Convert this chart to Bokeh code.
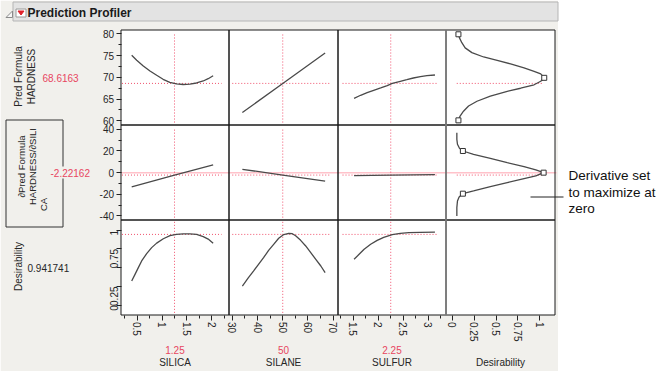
import math
from bokeh.plotting import figure
from bokeh.models import Range1d, FixedTicker, LinearAxis
from bokeh.embed import file_html
from bokeh.resources import INLINE
from bokeh.core.properties import value

# ---------------- data ----------------
factors = ["SILICA", "SILANE", "SULFUR"]
factor_current = [1.25, 50, 2.25]
hardness_current = 68.6163
deriv_current = -2.22162
desir_current = 0.941741
row_titles = [["Pred Formula", "HARDNESS"], ["∂Pred Formula", "HARDNESS/∂SILI", "CA"], ["Desirability"]]
resp_axis_name = "Desirability"
title = "Prediction Profiler"
note = ["Derivative set", "to maximize at", "zero"]

silica_x = [0.386, 0.487, 0.62, 0.755, 0.89, 1.02, 1.155, 1.29, 1.425, 1.56, 1.695, 1.83, 1.93, 2.03]
silica_hard = [75.09, 73.94, 72.63, 71.47, 70.48, 69.56, 68.87, 68.5, 68.36, 68.43, 68.71, 69.17, 69.7, 70.39]
silica_deriv_x = [0.386, 1.25, 2.03]
silica_deriv = [-13.2, -2.22, 7.1]
silica_des_x = [0.386, 0.453, 0.52, 0.587, 0.688, 0.789, 0.89, 1.024, 1.158, 1.29, 1.425, 1.56, 1.695, 1.83, 1.93, 2.03]
silica_des = [0.323, 0.411, 0.5, 0.589, 0.686, 0.766, 0.826, 0.884, 0.925, 0.943, 0.95, 0.95, 0.941, 0.912, 0.879, 0.824]

silane_x = [34.0, 50.0, 66.8]
silane_hard = [61.9, 68.6, 75.6]
silane_deriv = [3.1, -2.2, -7.9]
silane_des_x = [34.0, 36.4, 38.4, 40.4, 42.4, 44.4, 46.4, 48.4, 50.4, 52.4, 53.8, 55.1, 57.1, 59.1, 61.1, 63.1, 65.1, 66.8]
silane_des = [0.256, 0.367, 0.455, 0.544, 0.632, 0.73, 0.81, 0.89, 0.94, 0.956, 0.951, 0.924, 0.863, 0.788, 0.699, 0.611, 0.522, 0.433]

sulfur_x = [1.52, 1.65, 1.78, 1.91, 2.05, 2.18, 2.28, 2.44, 2.57, 2.70, 2.84, 2.97, 3.13]
sulfur_hard = [65.18, 65.88, 66.48, 67.03, 67.56, 68.09, 68.6, 69.1, 69.47, 69.86, 70.16, 70.39, 70.55]
sulfur_deriv_x = [1.52, 2.25, 3.13]
sulfur_deriv = [-2.8, -2.22, -1.8]
sulfur_des_x = [1.52, 1.62, 1.72, 1.85, 1.98, 2.11, 2.28, 2.44, 2.61, 2.84, 3.13]
sulfur_des = [0.611, 0.677, 0.744, 0.81, 0.863, 0.903, 0.94, 0.956, 0.964, 0.969, 0.973]

# desirability function of HARDNESS (x = desirability, y = hardness)
dh_des = [0.069, 0.081, 0.108, 0.146, 0.223, 0.357, 0.512, 0.665, 0.819, 0.934, 1.01, 1.05,
          1.01, 0.934, 0.78, 0.627, 0.434, 0.281, 0.185, 0.127, 0.088, 0.069]
dh_hard = [79.93, 79.1, 78.0, 76.8, 75.7, 74.7, 73.9, 73.1, 72.2, 71.4, 70.8, 69.9,
           69.1, 68.3, 67.5, 66.8, 65.7, 64.5, 63.4, 62.2, 61.1, 60.1]
dh_mark_des = [0.069, 1.05, 0.069]
dh_mark_hard = [79.93, 69.9, 60.1]

# desirability function of the derivative
dd_des = [0.051, 0.051, 0.058, 0.081, 0.12, 0.242, 0.434, 0.627, 0.819, 0.954, 1.043,
          0.954, 0.819, 0.627, 0.434, 0.242, 0.12, 0.077, 0.058, 0.051, 0.051]
dd_deriv = [36.9, 30.8, 26.2, 22.5, 20.0, 16.9, 13.2, 9.2, 5.5, 2.5, 0.0,
            -3.0, -5.5, -9.2, -12.9, -16.9, -19.4, -22.5, -26.2, -32.3, -40.0]
dd_mark_des = [0.12, 1.043, 0.12]
dd_mark_deriv = [20.0, 0.0, -19.4]

x_ticks = [[0.5, 1, 1.5, 2], [30, 40, 50, 60, 70], [1.5, 2, 2.5, 3], [0, 0.25, 0.5, 0.75, 1]]
x_tick_labels = [["0.5", "1", "1.5", "2"], ["30", "40", "50", "60", "70"],
                 ["1.5", "2", "2.5", "3"], ["0", "0.25", "0.5", "0.75", "1"]]
x_minor = [[0.25, 0.75, 1.25, 1.75, 2.25], [35, 45, 55, 65], [1.25, 1.75, 2.25, 2.75, 3.25], []]
y_ticks = [[60, 65, 70, 75, 80], [-40, -20, 0, 20, 40], [0, 0.25, 0.5, 0.75, 1]]
y_tick_labels = [["60", "65", "70", "75", "80"], ["-40", "-20", "0", "20", "40"], ["0", "0.25", "", "0.75", "1"]]
y_minor = [[62.5, 67.5, 72.5, 77.5], [-30, -10, 10, 30], []]

# ---------------- style / layout ----------------
FONT = "Liberation Sans"
GRAY = "#f1f0ec"
RED = "#e8465f"
DOT = "#f0506c"
PINK = "#ffc2ca"
CURVE = "#4a4a4a"
TXT = "#262626"
W, H = 661, 371

x_ranges = [(0.17, 2.35), (28.7, 71.9), (1.2, 3.35), (-0.073, 1.173)]
y_ranges = [(59.03, 80.92), (-43.7, 44.0), (-0.129, 1.133)]
hdot_x = [(0.19, 2.2), (30.0, 69.1), (1.29, 3.17), (0.05, 1.04)]
vdot_y = [(59.6, 80.0), (-41.5, 41.5), (-0.1, 1.12)]
col_edges = [120.5, 228.5, 337.5, 445.5, 554.5]   # page pixels
row_edges = [29.5, 124.5, 219.5, 314.5]


def ext_x(lo, hi, a, b):
    s = (hi - lo) / (b - a)
    return Range1d(lo - a * s, hi + (W - b) * s)


def ext_y(lo, hi, top, bot):
    s = (hi - lo) / (bot - top)
    return Range1d(lo - (H - bot) * s, hi + top * s)


p = figure(width=W, height=H, x_range=Range1d(0, W), y_range=Range1d(-H, 0),
           output_backend="svg", toolbar_location=None,
           x_axis_location=None, y_axis_location=None,
           min_border_left=0, min_border_right=0, min_border_top=0, min_border_bottom=0,
           background_fill_color="white", border_fill_color="white", outline_line_color=None)
p.grid.visible = False
p.extra_x_ranges = {f"c{c}": ext_x(*x_ranges[c], col_edges[c], col_edges[c + 1]) for c in range(4)}
p.extra_y_ranges = {f"r{r}": ext_y(*y_ranges[r], row_edges[r], row_edges[r + 1]) for r in range(3)}


def txt(x, y, s, size="10px", color=TXT, align="left", angle=0.0, style="normal"):
    p.text(x=[x], y=[-y], text=[s], text_font=value(FONT), text_font_size=size,
           text_color=color, text_align=align, text_baseline="middle", angle=angle,
           text_font_style=style)


def style_axis(ax):
    ax.axis_line_color = None
    ax.major_tick_out = 5
    ax.major_tick_in = 0
    ax.minor_tick_out = 3
    ax.minor_tick_in = 0
    ax.major_tick_line_color = "#222222"
    ax.minor_tick_line_color = "#222222"
    ax.major_label_text_font = FONT
    ax.major_label_text_font_size = "10px"
    ax.major_label_text_color = TXT
    ax.major_label_standoff = 2


# background panel + header
p.quad(left=[0], right=[557.5], top=[0], bottom=[-H], fill_color=GRAY, line_color=None)
p.quad(left=[12.5], right=[557.5], top=[-1.5], bottom=[-20.5], fill_color="#e3e3e3", line_color="#b5b5b5")
p.patch(x=[5.5, 12, 12], y=[-17, -10.5, -17], fill_color="#f6f6f6", line_color="#8a8a8a")
p.quad(left=[15.5], right=[25.5], top=[-8.5], bottom=[-16.5], fill_color="white", line_color="#9a9a9a")
p.patch(x=[17.5, 23.5, 20.5], y=[-10.5, -10.5, -14.5], fill_color="#e0202a", line_color="#e0202a")
txt(27, 12.5, title, size="12px", color="#1a1a1a", style="bold")

# panels
factor_series = [
    (silica_x, silica_hard, silica_deriv_x, silica_deriv, silica_des_x, silica_des),
    (silane_x, silane_hard, silane_x, silane_deriv, silane_des_x, silane_des),
    (sulfur_x, sulfur_hard, sulfur_deriv_x, sulfur_deriv, sulfur_des_x, sulfur_des),
]
row_current = [hardness_current, deriv_current, desir_current]

for r in range(3):
    for c in range(4):
        kw = dict(x_range_name=f"c{c}", y_range_name=f"r{r}")
        (xlo, xhi), (ylo, yhi) = x_ranges[c], y_ranges[r]
        p.quad(left=[xlo], right=[xhi], bottom=[ylo], top=[yhi], fill_color="white", line_color=None, **kw)

# zero line of the derivative row, across the whole grid
p.line(x=[col_edges[0], 556], y=[0, 0], line_color=PINK, line_width=1.5, y_range_name="r1")

for r in range(3):
    for c in range(4):
        kw = dict(x_range_name=f"c{c}", y_range_name=f"r{r}")
        if c < 3:
            fx, fh, dx, dv, desx, desv = factor_series[c]
            xs, ys = [(fx, fh), (dx, dv), (desx, desv)][r]
            p.line(x=list(hdot_x[c]), y=[row_current[r]] * 2, line_color=DOT, line_dash="1 2", line_width=1, **kw)
            p.line(x=[factor_current[c]] * 2, y=list(vdot_y[r]), line_color=DOT, line_dash="1 2", line_width=1, **kw)
            p.line(x=xs, y=ys, line_color=CURVE, line_width=1.3, **kw)
        elif r == 0:
            p.line(x=list(hdot_x[3]), y=[hardness_current] * 2, line_color=DOT, line_dash="1 2", line_width=1, **kw)
            p.line(x=dh_des, y=dh_hard, line_color=CURVE, line_width=1.3, **kw)
            p.scatter(x=dh_mark_des, y=dh_mark_hard, marker="square", size=5,
                      fill_color="white", line_color="#333333", line_width=1, **kw)
        elif r == 1:
            p.line(x=list(hdot_x[3]), y=[deriv_current] * 2, line_color=DOT, line_dash="1 2", line_width=1, **kw)
            p.line(x=dd_des, y=dd_deriv, line_color=CURVE, line_width=1.3, **kw)
            p.scatter(x=dd_mark_des, y=dd_mark_deriv, marker="square", size=5,
                      fill_color="white", line_color="#333333", line_width=1, **kw)

# panel outlines
for r in range(3):
    for c in range(4):
        kw = dict(x_range_name=f"c{c}", y_range_name=f"r{r}")
        (xlo, xhi), (ylo, yhi) = x_ranges[c], y_ranges[r]
        p.quad(left=[xlo], right=[xhi], bottom=[ylo], top=[yhi], fill_color=None,
               line_color="#1a1a1a", line_width=1, **kw)
p.line(x=[col_edges[3], col_edges[3]], y=[-row_edges[0], -row_edges[3]], line_color="#8a8a8a", line_width=1.6)

# axes
for c in range(4):
    ax = LinearAxis(x_range_name=f"c{c}", fixed_location=-row_edges[3], bounds=x_ranges[c],
                    ticker=FixedTicker(ticks=x_ticks[c], minor_ticks=x_minor[c]),
                    major_label_overrides=dict(zip(x_ticks[c], x_tick_labels[c])),
                    major_label_orientation=-math.pi / 2)
    style_axis(ax)
    p.add_layout(ax, "below")
for r in range(3):
    ax = LinearAxis(y_range_name=f"r{r}", fixed_location=col_edges[0], bounds=y_ranges[r],
                    ticker=FixedTicker(ticks=y_ticks[r], minor_ticks=y_minor[r]),
                    major_label_overrides=dict(zip(y_ticks[r], y_tick_labels[r])),
                    major_label_orientation=(math.pi / 2 if r == 2 else "horizontal"))
    style_axis(ax)
    p.add_layout(ax, "left")

# row labels
txt(18, 76, row_titles[0][0], angle=math.pi / 2, align="center")
txt(31, 76, row_titles[0][1], angle=math.pi / 2, align="center")
txt(42, 77, str(hardness_current), color=RED)
p.quad(left=[5.5], right=[62.5], top=[-119.5], bottom=[-226.5], fill_color=None, line_color="#333333")
txt(21, 166, row_titles[1][0], size="9.5px", angle=math.pi / 2, align="center")
txt(31.5, 166, row_titles[1][1], size="9.5px", angle=math.pi / 2, align="center")
txt(43, 204, row_titles[1][2], size="9.5px", angle=math.pi / 2, align="center")
p.quad(left=[49], right=[91], top=[-166], bottom=[-178], fill_color=GRAY, line_color=None)
txt(50, 172, str(deriv_current), color=RED)
txt(18, 266, row_titles[2][0], angle=math.pi / 2, align="center")
txt(27, 267, str(desir_current))

# bottom labels
for i, name in enumerate(factors):
    cx = (col_edges[i] + col_edges[i + 1]) / 2
    txt(cx, 349, str(factor_current[i]), color=RED, align="center")
    txt(cx, 362, name, align="center")
txt((col_edges[3] + col_edges[4]) / 2, 362, resp_axis_name, align="center")

# annotation
p.line(x=[530, 563], y=[-196.5, -196.5], line_color="#222222", line_width=1)
for i, s in enumerate(note):
    txt(568, 175 + 16.5 * i, s, size="13.5px", color="#111111")

open("out.html", "w").write(file_html(p, INLINE))
